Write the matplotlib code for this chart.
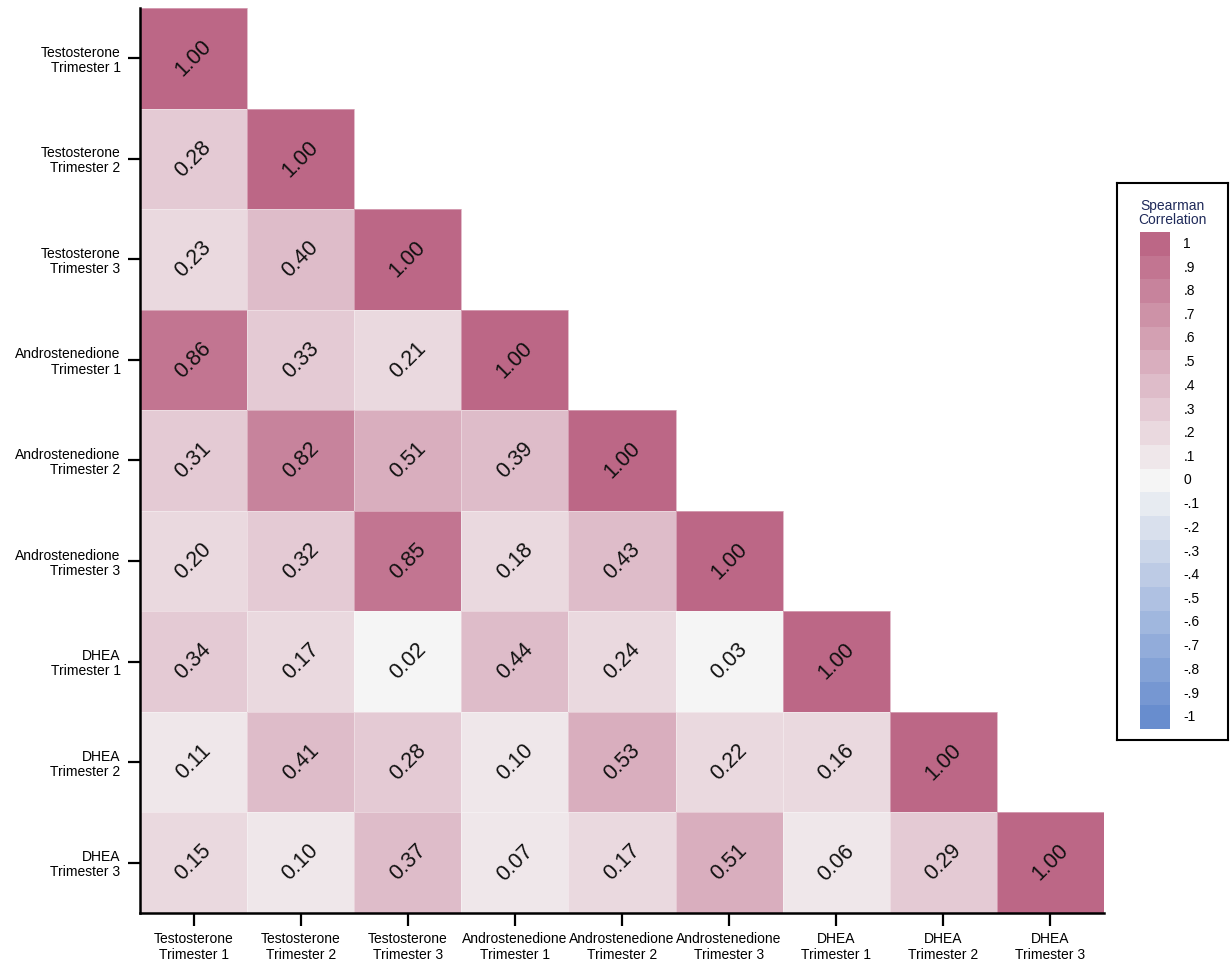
import numpy as np
import matplotlib
matplotlib.use("Agg")
import matplotlib.pyplot as plt
from matplotlib.colors import ListedColormap, BoundaryNorm

plt.rcParams['font.family'] = ['Liberation Sans', 'DejaVu Sans']

# Variables (rows top-to-bottom, columns left-to-right)
hormones = ["Testosterone", "Testosterone", "Testosterone",
            "Androstenedione", "Androstenedione", "Androstenedione",
            "DHEA", "DHEA", "DHEA"]
trimesters = ["Trimester 1", "Trimester 2", "Trimester 3"] * 3
labels = [f"{h}\n{t}" for h, t in zip(hormones, trimesters)]

# Lower-triangular Spearman correlations, row by row
corr_rows = [
    [1.00],
    [0.28, 1.00],
    [0.23, 0.40, 1.00],
    [0.86, 0.33, 0.21, 1.00],
    [0.31, 0.82, 0.51, 0.39, 1.00],
    [0.20, 0.32, 0.85, 0.18, 0.43, 1.00],
    [0.34, 0.17, 0.02, 0.44, 0.24, 0.03, 1.00],
    [0.11, 0.41, 0.28, 0.10, 0.53, 0.22, 0.16, 1.00],
    [0.15, 0.10, 0.37, 0.07, 0.17, 0.51, 0.06, 0.29, 1.00],
]

# Legend levels
legend_levels = np.round(np.arange(-1.0, 1.01, 0.1), 1)

# Discrete diverging palette, -1 ... 0 ... 1 in steps of 0.1
neg_end = np.array([104, 141, 206]) / 255
mid = np.array([245, 245, 245]) / 255
pos_end = np.array([188, 103, 134]) / 255
colors = []
for lv in legend_levels:
    if lv < 0:
        c = mid + (neg_end - mid) * (-lv)
    else:
        c = mid + (pos_end - mid) * lv
    colors.append(tuple(c))
cmap = ListedColormap(colors)
bounds = np.concatenate([legend_levels - 0.05, [1.05]])
norm = BoundaryNorm(bounds, cmap.N)

n = len(labels)
mat = np.full((n, n), np.nan)
for i, row in enumerate(corr_rows):
    for j, v in enumerate(row):
        mat[i, j] = v
# values are binned to the nearest tenth (half rounds up)
binned = np.floor(mat * 10 + 0.5) / 10

fig = plt.figure(figsize=(12.32, 9.65), dpi=100)
ax = fig.add_axes([0.1136, 0.0539, 0.7825, 0.9378])

masked = np.ma.masked_invalid(binned)
ax.pcolormesh(np.arange(n + 1), np.arange(n + 1), masked, cmap=cmap, norm=norm,
              shading='flat', edgecolors=(1, 1, 1, 0.35), linewidth=0.6)
ax.set_xlim(0, n)
ax.set_ylim(n, 0)

for i, row in enumerate(corr_rows):
    for j, v in enumerate(row):
        ax.text(j + 0.5, i + 0.5, f"{v:.2f}", rotation=45, ha='center', va='center',
                fontsize=15.5, color='#111111', rotation_mode='anchor')

ax.set_xticks(np.arange(n) + 0.5)
ax.set_yticks(np.arange(n) + 0.5)
ax.set_xticklabels(labels, fontsize=10, linespacing=1.1)
ax.set_yticklabels(labels, fontsize=10, linespacing=1.1, multialignment='right')
ax.tick_params(axis='both', length=9, width=1.6, color='black', pad=5)
for side in ['top', 'right']:
    ax.spines[side].set_visible(False)
for side in ['left', 'bottom']:
    ax.spines[side].set_linewidth(1.8)

# Legend box
lax = fig.add_axes([0.9067, 0.2332, 0.0901, 0.5772])
lax.set_xticks([])
lax.set_yticks([])
for s in lax.spines.values():
    s.set_linewidth(1.5)
lax.text(0.5, 0.972, "Spearman\nCorrelation", ha='center', va='top', fontsize=10,
         color='#1f2a5a', linespacing=1.0, transform=lax.transAxes)

cax = fig.add_axes([1140 / 1232, 1 - 729 / 965, 30 / 1232, 497 / 965])
edges = np.concatenate([legend_levels - 0.05, [1.05]])
cax.pcolormesh([0, 1], edges, legend_levels.reshape(-1, 1), cmap=cmap, norm=norm)
cax.set_xlim(0, 1)
cax.set_ylim(-1.05, 1.05)
cax.set_xticks([])
cax.set_yticks([])
for s in cax.spines.values():
    s.set_visible(False)
for lv in legend_levels:
    if lv == 0:
        txt = "0"
    elif abs(lv) == 1:
        txt = f"{int(lv)}"
    else:
        txt = f"{lv:.1f}".replace("0.", ".")
    cax.text(1.45, lv, txt, ha='left', va='center', fontsize=10)

fig.savefig("out.png", dpi=100)
